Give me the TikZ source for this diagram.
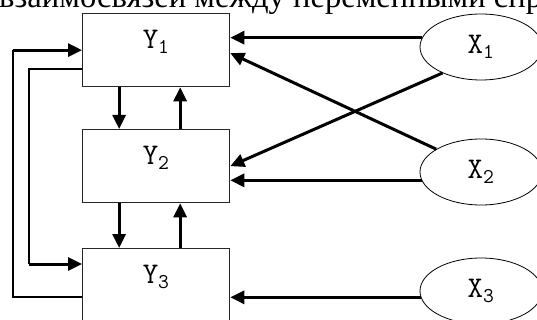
\documentclass[tikz,border=0pt]{standalone}
\usepackage{fontspec}
\setmainfont{Liberation Serif}
\usetikzlibrary{shapes.geometric,arrows.meta}

\begin{document}
\begin{tikzpicture}[x=1pt,y=-1pt,
    box/.style={draw=black!85,line width=1.3pt,minimum width=147pt,minimum height=73pt,anchor=north west,inner sep=0pt},
    var/.style={draw,line width=.8pt,ellipse,minimum width=122pt,minimum height=66pt,inner sep=0pt,font=\ttfamily\fontsize{30}{30}\selectfont},
    lab/.style={font=\ttfamily\fontsize{30}{30}\selectfont,inner sep=0pt},
    arr/.style={line width=3pt,-{Triangle[length=14pt,width=13pt]}},
    link/.style={line width=1.5pt}]
  \useasboundingbox (0,0) rectangle (537,320);
  \clip (0,0) rectangle (537,320);
  \node[anchor=base west,inner sep=0pt,font=\fontsize{32.6}{36}\selectfont] (head) at (-1,8) {взаимосвязей между переменными спр};
  \node[box] (y1) at (82,13) {};
  \node[box] (y2) at (82,129) {};
  \node[box] (y3) at (82,248) {};
  \foreach \i in {1,2,3} {
    \node[lab] (ly\i) at ([yshift=-29pt]y\i.north) {Y\textsubscript{\i}};
  }
  \node[var] (x1) at (481,47) {X\textsubscript{1}};
  \node[var] (x2) at (481,172) {X\textsubscript{2}};
  \node[var] (x3) at (481,291) {X\textsubscript{3}};
  \draw[arr] (x1.171) -- (x1.171 -| y1.east);
  \draw[arr] (x2.188) -- (x2.188 -| y2.east);
  \draw[arr] (x3.186) -- (x3.186 -| y3.east);
  \draw[arr] (x2.153) -- ([yshift=-3pt]y1.east);
  \draw[arr] (x1.214) -- (y2.east);
  \foreach \a/\b in {y1/y2,y2/y3} {
    \draw[arr] ([xshift=-37pt]\a.south) -- ([xshift=-37pt]\b.north);
    \draw[arr] ([xshift=24pt]\b.north) -- ([xshift=24pt]\a.south);
  }
  \coordinate (fb1) at ([xshift=-69pt]y1.west);
  \coordinate (fb2) at ([shift={(-53pt,-16pt)}]y3.north west);
  \draw[link] ([yshift=-49pt]y3.north west) -| (fb1);
  \draw[arr] (fb1) -- (y1.west);
  \draw[link] ([yshift=-19pt]y1.west) -| (fb2);
  \draw[arr] (fb2) -- (fb2 -| y3.west);
\end{tikzpicture}
\end{document}
